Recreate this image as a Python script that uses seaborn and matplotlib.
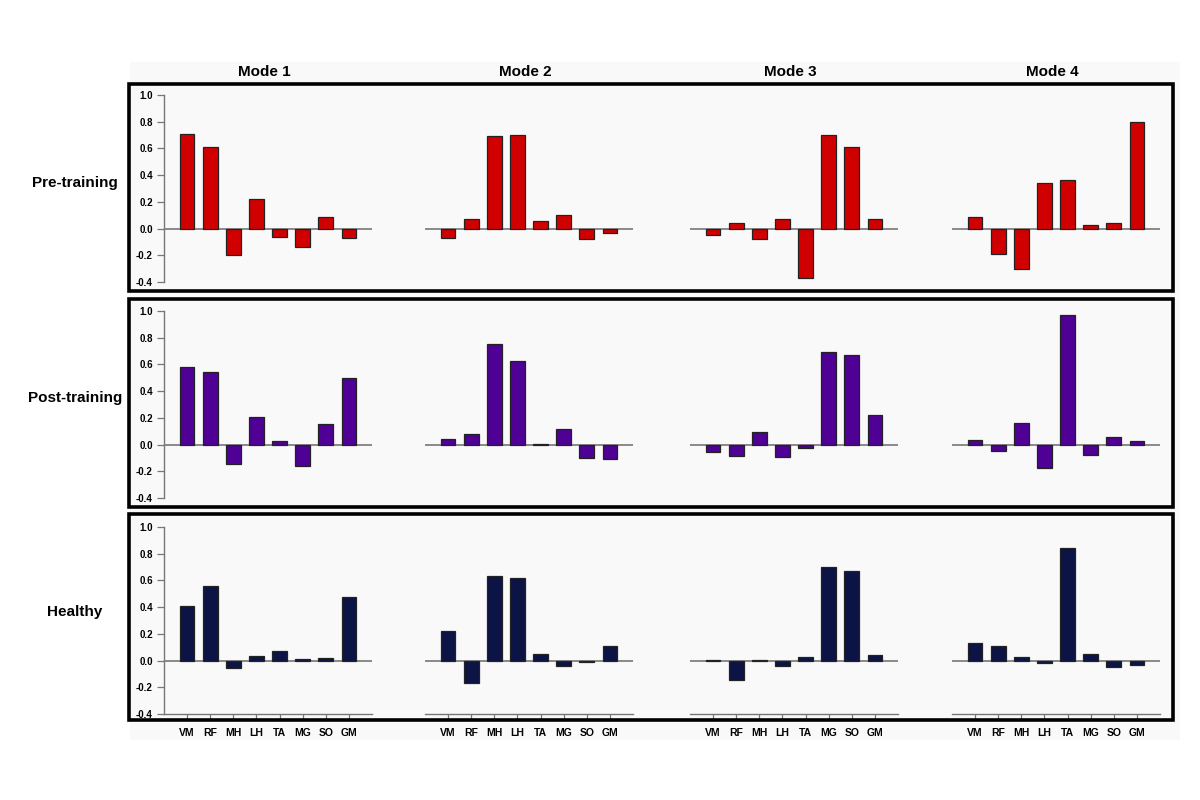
import matplotlib
matplotlib.use("Agg")
import matplotlib.pyplot as plt
import matplotlib.patches as mpatches
import seaborn as sns
import pandas as pd

muscles = ["VM", "RF", "MH", "LH", "TA", "MG", "SO", "GM"]
modes = ["Mode 1", "Mode 2", "Mode 3", "Mode 4"]
groups = ["Pre-training", "Post-training", "Healthy"]

# weights per mode
pre_training = [
    [0.71, 0.61, -0.195, 0.225, -0.063, -0.137, 0.084, -0.073],
    [-0.07, 0.073, 0.69, 0.70, 0.053, 0.10, -0.08, -0.035],
    [-0.045, 0.045, -0.08, 0.075, -0.37, 0.70, 0.61, 0.075],
    [0.09, -0.19, -0.30, 0.34, 0.365, 0.03, 0.04, 0.795],
]
post_training = [
    [0.58, 0.547, -0.147, 0.208, 0.028, -0.162, 0.154, 0.499],
    [0.038, 0.076, 0.754, 0.623, 0.003, 0.114, -0.104, -0.111],
    [-0.053, -0.089, 0.094, -0.094, -0.028, 0.696, 0.668, 0.218],
    [0.033, -0.046, 0.162, -0.175, 0.97, -0.078, 0.053, 0.025],
]
healthy = [
    [0.407, 0.556, -0.053, 0.033, 0.068, 0.01, 0.02, 0.477],
    [0.22, -0.167, 0.634, 0.616, 0.05, -0.04, -0.01, 0.106],
    [0.008, -0.149, 0.008, -0.04, 0.025, 0.70, 0.672, 0.045],
    [0.129, 0.106, 0.03, -0.02, 0.846, 0.05, -0.048, -0.03],
]
group_data = [pre_training, post_training, healthy]
group_colors = ["#d10000", "#4f0095", "#0b1445"]

sns.set_style("white")
plt.rcParams["font.family"] = ["Liberation Sans", "DejaVu Sans"]
plt.rcParams["text.color"] = "black"
plt.rcParams["xtick.color"] = "black"
plt.rcParams["ytick.color"] = "black"

W, H = 1200, 800
fig = plt.figure(figsize=(12, 8), dpi=100)


def px_box(x0, y0, x1, y1):
    # pixel coords (top-left origin) -> figure fraction rect
    return [x0 / W, 1 - y1 / H, (x1 - x0) / W, (y1 - y0) / H]


# faint backdrop behind the panels
fig.patches.append(mpatches.Rectangle((130 / W, 1 - 740 / H), 1050 / W, 678 / H,
                                      transform=fig.transFigure, facecolor="#f9f9f9",
                                      edgecolor="none", zorder=-10))

col_left = [164, 425, 690, 952]
col_w = 208
row_top = [95, 311, 527]
row_h = 187
box_rows = [(84, 291), (299, 507), (514, 720)]

for r, (grp, data, color) in enumerate(zip(groups, group_data, group_colors)):
    for c, mode in enumerate(modes):
        ax = fig.add_axes(px_box(col_left[c], row_top[r], col_left[c] + col_w, row_top[r] + row_h))
        ax.set_zorder(2)
        ax.patch.set_alpha(0)
        df = pd.DataFrame({"muscle": muscles, "weight": data[c]})
        sns.barplot(data=df, x="muscle", y="weight", color=color, width=0.63,
                    edgecolor="#222222", linewidth=0.9, saturation=1, ax=ax)
        ax.axhline(0, color="#777777", lw=1.2, zorder=0)
        ax.set_xlim(-1, 8)
        ax.set_ylim(-0.4, 1.0)
        ax.set_xlabel("")
        ax.set_ylabel("")
        for s in ["top", "right"]:
            ax.spines[s].set_visible(False)

        if c == 0:
            ax.spines["left"].set_color("#777777")
            ax.spines["left"].set_linewidth(1.0)
            ax.set_yticks([-0.4, -0.2, 0.0, 0.2, 0.4, 0.6, 0.8, 1.0])
            ax.set_yticklabels([f"{v:.1f}" for v in ax.get_yticks()],
                               fontsize=7, fontweight="bold")
            ax.tick_params(axis="y", left=True, direction="out", length=5, width=0.9,
                           color="#777777", pad=3)
        else:
            ax.spines["left"].set_visible(False)
            ax.set_yticks([])

        if r == 2:
            ax.spines["bottom"].set_color("#777777")
            ax.spines["bottom"].set_linewidth(1.0)
            ax.set_xticks(range(len(muscles)))
            ax.set_xticklabels(muscles, fontsize=7.5, fontweight="bold")
            ax.tick_params(axis="x", bottom=True, direction="out", length=4, width=0.9,
                           color="#777777", pad=6)
        else:
            ax.spines["bottom"].set_visible(False)
            ax.set_xticks([])

        if r == 0:
            fig.text((col_left[c] + col_w / 2 - 4) / W, 1 - 72 / H, mode,
                     ha="center", va="center", fontsize=11, fontweight="bold")

    y0, y1 = box_rows[r]
    fig.patches.append(mpatches.Rectangle((129 / W, 1 - y1 / H), (1173 - 129) / W, (y1 - y0) / H,
                                          transform=fig.transFigure, fill=False,
                                          edgecolor="black", lw=2.6, zorder=5))
    fig.text(75 / W, 1 - ((y0 + y1) / 2 - 5) / H, grp, ha="center", va="center",
             fontsize=11, fontweight="bold")

fig.savefig("out.png", dpi=100)
